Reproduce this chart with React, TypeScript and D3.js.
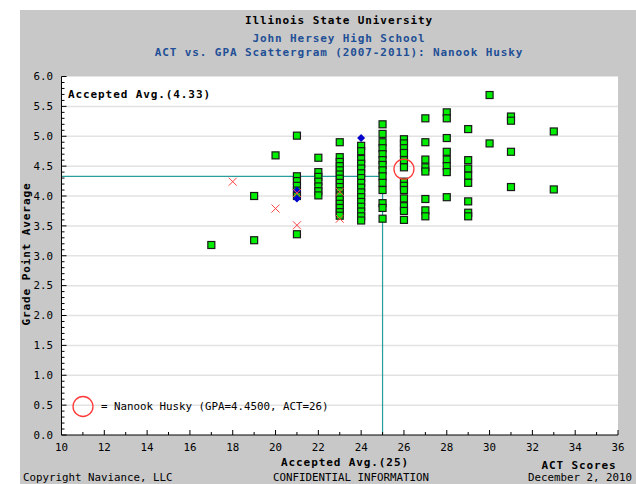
import React from 'react';
import * as d3 from 'd3';

const xTickValues = [10, 12, 14, 16, 18, 20, 22, 24, 26, 28, 30, 32, 34, 36];
const xMinorValues = d3.range(10, 37, 1);
const yTickValues = [0, 0.5, 1, 1.5, 2, 2.5, 3, 3.5, 4, 4.5, 5, 5.5, 6];
const yMinorValues = d3.range(0, 61, 1).map((v) => v / 10);
const gridValues = [0.5, 1, 1.5, 2, 2.5, 3, 3.5, 4, 4.5, 5, 5.5];

// accepted (green squares): [ACT, GPA]
const accepted: [number, number][] = [
  [17, 3.18],
  [19, 4.0], [19, 3.26],
  [20, 4.68],
  [21, 5.01], [21, 4.33], [21, 4.25], [21, 4.17], [21, 4.09], [21, 4.0], [21, 3.36],
  [22, 4.64], [22, 4.4], [22, 4.32], [22, 4.24], [22, 4.16], [22, 4.08], [22, 4.01],
  [23, 4.9], [23, 4.65], [23, 4.57], [23, 4.5], [23, 4.43], [23, 4.36], [23, 4.29], [23, 4.22],
  [23, 4.15], [23, 4.08], [23, 4.01], [23, 3.94], [23, 3.87], [23, 3.8], [23, 3.73], [23, 3.67],
  [24, 4.84], [24, 4.75], [24, 4.62], [24, 4.54], [24, 4.46], [24, 4.38], [24, 4.3], [24, 4.22],
  [24, 4.14], [24, 4.06], [24, 3.98], [24, 3.9], [24, 3.82], [24, 3.74], [24, 3.66], [24, 3.59],
  [25, 5.2], [25, 5.04], [25, 4.9], [25, 4.8], [25, 4.7], [25, 4.6], [25, 4.52], [25, 4.43],
  [25, 4.33], [25, 4.22], [25, 4.1], [25, 3.88], [25, 3.8], [25, 3.62],
  [26, 4.95], [26, 4.88], [26, 4.8], [26, 4.72], [26, 4.6], [26, 4.48], [26, 4.24], [26, 4.17],
  [26, 4.1], [26, 3.96], [26, 3.83], [26, 3.75], [26, 3.6],
  [27, 5.3], [27, 4.9], [27, 4.61], [27, 4.48], [27, 4.41], [27, 3.95], [27, 3.76], [27, 3.66],
  [28, 5.4], [28, 5.3], [28, 4.97], [28, 4.74], [28, 4.61], [28, 4.5], [28, 4.4], [28, 3.98],
  [29, 5.12], [29, 4.6], [29, 4.46], [29, 4.34], [29, 4.22], [29, 3.91], [29, 3.72], [29, 3.66],
  [30, 5.69], [30, 4.88],
  [31, 5.33], [31, 5.26], [31, 4.74], [31, 4.15],
  [33, 5.08], [33, 4.11],
];

// denied (red X)
const denied: [number, number][] = [
  [18, 4.24], [20, 3.79], [21, 4.05], [21, 3.51], [23, 4.07], [23, 3.62],
];

// waitlisted (blue diamonds)
const waitlisted: [number, number][] = [
  [21, 4.09], [21, 3.96], [24, 4.97],
];

const student: [number, number] = [26, 4.45];
const acceptedAvgAct = 25;
const acceptedAvgGpa = 4.33;

const titleText = 'Illinois State University';
const subtitle1 = 'John Hersey High School';
const subtitle2 = 'ACT vs. GPA Scattergram (2007-2011): Nanook Husky';

const FONT = '"DejaVu Sans Mono", "Liberation Mono", monospace';

export default function App() {
  const x = d3.scaleLinear().domain([10, 36]).range([61.5, 618]);
  const y = d3.scaleLinear().domain([0, 6]).range([435, 76.5]);
  const left = x(10);
  const right = x(36);
  const top = y(6);
  const bottom = y(0);

  const boldStyle = { fontFamily: FONT, fontWeight: 700, fontSize: 11, letterSpacing: 0.9 } as const;
  const normStyle = { fontFamily: FONT, fontSize: 10.8 } as const;

  return (
    <svg
      width={636}
      height={484}
      style={{ position: 'absolute', left: 0, top: 0, background: '#ffffff' }}
    >
      <rect x={20} y={10} width={616} height={474} fill="#c8c8c8" />
      <rect x={left} y={top} width={right - left} height={bottom - top} fill="#ffffff" />

      {gridValues.map((v) => (
        <line key={'g' + v} x1={left + 1} x2={right} y1={y(v)} y2={y(v)} stroke="#e2e2e2" strokeWidth={1.5} />
      ))}

      {/* accepted avg lines */}
      <line x1={left} x2={x(acceptedAvgAct)} y1={y(acceptedAvgGpa)} y2={y(acceptedAvgGpa)} stroke="#2a9d9d" strokeWidth={1.2} />
      <line x1={x(acceptedAvgAct)} x2={x(acceptedAvgAct)} y1={y(acceptedAvgGpa)} y2={bottom} stroke="#2a9d9d" strokeWidth={1.2} />

      {/* axes */}
      <line x1={left} x2={left} y1={top} y2={bottom} stroke="#000" strokeWidth={1} />
      <line x1={left} x2={right} y1={bottom} y2={bottom} stroke="#000" strokeWidth={1} />
      {yMinorValues.map((v) => {
        const major = Math.abs(v * 2 - Math.round(v * 2)) < 1e-6;
        return (
          <line key={'ym' + v} x1={left} x2={left + (major ? 5 : 3)} y1={y(v)} y2={y(v)} stroke="#000" strokeWidth={1} />
        );
      })}
      {xMinorValues.map((v) => {
        const major = v % 2 === 0;
        return (
          <line key={'xm' + v} x1={x(v)} x2={x(v)} y1={bottom} y2={bottom - (major ? 5 : 3)} stroke="#000" strokeWidth={1} />
        );
      })}
      {yTickValues.map((v) => (
        <text key={'yl' + v} x={53} y={y(v)} dy="0.35em" textAnchor="end" style={normStyle} fill="#000">
          {v.toFixed(1)}
        </text>
      ))}
      {xTickValues.map((v) => (
        <text key={'xl' + v} x={x(v)} y={447} dy="0.35em" textAnchor="middle" style={normStyle} fill="#000">
          {v}
        </text>
      ))}

      {/* accepted squares */}
      {accepted.map(([a, g], i) => (
        <rect key={'a' + i} x={x(a) - 3.5} y={y(g) - 3.5} width={7} height={7} fill="#00ee00" stroke="#1a1a1a" strokeWidth={1.2} />
      ))}
      {/* waitlisted diamonds */}
      {waitlisted.map(([a, g], i) => {
        const cx = x(a);
        const cy = y(g);
        return (
          <path key={'w' + i} d={`M${cx},${cy - 4}L${cx + 4},${cy}L${cx},${cy + 4}L${cx - 4},${cy}Z`} fill="#0000cc" />
        );
      })}
      {/* denied X */}
      {denied.map(([a, g], i) => {
        const cx = x(a);
        const cy = y(g);
        return (
          <g key={'d' + i} stroke="#ff4444" strokeWidth={1}>
            <line x1={cx - 4} y1={cy - 4} x2={cx + 4} y2={cy + 4} />
            <line x1={cx - 4} y1={cy + 4} x2={cx + 4} y2={cy - 4} />
          </g>
        );
      })}
      {/* student */}
      <circle cx={x(student[0])} cy={y(student[1])} r={10} fill="none" stroke="#ff3a3a" strokeWidth={1.3} />

      {/* legend */}
      <circle cx={83} cy={406.5} r={10} fill="none" stroke="#ff3a3a" strokeWidth={1.3} />
      <text x={101} y={406.5} dy="0.35em" style={normStyle} fill="#000">
        = Nanook Husky (GPA=4.4500, ACT=26)
      </text>

      {/* titles */}
      <text x={339} y={20} dy="0.35em" textAnchor="middle" style={boldStyle} fill="#000">{titleText}</text>
      <text x={339} y={38} dy="0.35em" textAnchor="middle" style={boldStyle} fill="#1f4f96">{subtitle1}</text>
      <text x={339} y={52.5} dy="0.35em" textAnchor="middle" style={boldStyle} fill="#1f4f96">{subtitle2}</text>

      <text x={68} y={94} dy="0.35em" style={boldStyle} fill="#000">Accepted Avg.(4.33)</text>
      <text x={345} y={462} dy="0.35em" textAnchor="middle" style={boldStyle} fill="#000">Accepted Avg.(25)</text>
      <text x={579} y={465} dy="0.35em" textAnchor="middle" style={boldStyle} fill="#000">ACT Scores</text>

      <text
        transform={`translate(26,254) rotate(-90)`}
        dy="0.35em"
        textAnchor="middle"
        style={boldStyle}
        fill="#000"
      >
        Grade Point Average
      </text>

      <text x={23} y={477.5} dy="0.35em" style={normStyle} fill="#000">Copyright Naviance, LLC</text>
      <text x={351} y={477.5} dy="0.35em" textAnchor="middle" style={normStyle} fill="#000">CONFIDENTIAL INFORMATION</text>
      <text x={632} y={477.5} dy="0.35em" textAnchor="end" style={normStyle} fill="#000">December 2, 2010</text>
    </svg>
  );
}
